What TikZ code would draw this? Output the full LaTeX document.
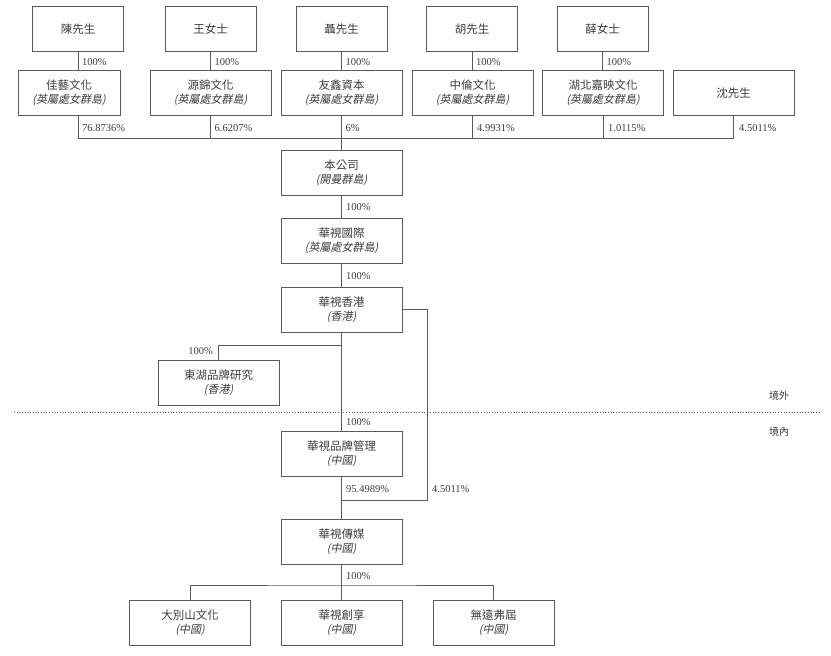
\documentclass[tikz,border=0pt]{standalone}
\usepackage{fontspec}
\setmainfont{Liberation Serif}
\newfontfamily\cjk{Noto Sans CJK TC}
\newfontfamily\cjkslant{Noto Sans CJK TC}[FakeSlant=0.2]
\definecolor{boxline}{HTML}{5A5A5A}
\definecolor{boxtext}{HTML}{3C3C3C}

\tikzset{
    entity/.style={draw=boxline, line width=0.8pt, text=boxtext, minimum width=121pt, minimum height=45pt,
        inner sep=0pt, align=center, font=\cjk\fontsize{11.5}{14}\selectfont},
    person/.style={entity, minimum width=91pt},
    share/.style={text=boxtext, inner sep=0pt, font=\fontsize{10.5}{12}\selectfont},
    zone/.style={text=boxtext, inner sep=0pt, font=\cjk\fontsize{10}{12}\selectfont},
    link/.style={draw=boxline, line width=0.8pt},
}
\newcommand{\juris}[1]{\\{\cjkslant\fontsize{11}{14}\selectfont(#1)}}

\begin{document}
\begin{tikzpicture}[x=1pt, y=-1pt]
    \useasboundingbox (0,0) rectangle (831,656);

    \node[person] (chen) at (78,29) {陳先生};
    \node[person] (wang) at (210.5,29) {王女士};
    \node[person] (nie) at (341.5,29) {聶先生};
    \node[person] (hu) at (472,29) {胡先生};
    \node[person] (xue) at (602.5,29) {薛女士};

    \node[entity, minimum width=102pt] (jiayi) at (69,93) {佳藝文化\juris{英屬處女群島}};
    \node[entity] (yuanjin) at (210.5,93) {源錦文化\juris{英屬處女群島}};
    \node[entity] (youxin) at (341.5,93) {友鑫資本\juris{英屬處女群島}};
    \node[entity] (zhonglun) at (472.5,93) {中倫文化\juris{英屬處女群島}};
    \node[entity] (jiaying) at (603,93) {湖北嘉映文化\juris{英屬處女群島}};
    \node[entity] (shen) at (733.5,93) {沈先生};

    \node[entity] (company) at (341.5,172.5) {本公司\juris{開曼群島}};
    \node[entity] (intl) at (341.5,240.5) {華視國際\juris{英屬處女群島}};
    \node[entity] (hk) at (341.5,309.5) {華視香港\juris{香港}};
    \node[entity] (donghu) at (218.5,383) {東湖品牌研究\juris{香港}};
    \node[entity] (brand) at (341.5,453.5) {華視品牌管理\juris{中國}};
    \node[entity] (media) at (341.5,542) {華視傳媒\juris{中國}};
    \node[entity] (dabie) at (190,623) {大別山文化\juris{中國}};
    \node[entity] (chuangxiang) at (341.5,623) {華視創享\juris{中國}};
    \node[entity] (wuyuan) at (493.5,623) {無遠弗屆\juris{中國}};

    \coordinate (bar) at (0,138);
    \coordinate (split) at (341.5,345);
    \coordinate (loop) at (427,500);
    \coordinate (fork) at (341.5,585);
    \coordinate (border west) at (14,412.5);
    \coordinate (border east) at (820,412.5);

    \draw[link] (chen.south) -- (chen.south |- jiayi.north);
    \draw[link] (wang) -- (yuanjin);
    \draw[link] (nie) -- (youxin);
    \draw[link] (hu.south) -- (hu.south |- zhonglun.north);
    \draw[link] (xue.south) -- (xue.south |- jiaying.north);

    \draw[link] (chen.south |- jiayi.south) -- (chen.south |- bar) -- (shen.south |- bar) -- (shen.south);
    \draw[link] (yuanjin.south) -- (yuanjin.south |- bar);
    \draw[link] (zhonglun.south) -- (zhonglun.south |- bar);
    \draw[link] (jiaying.south) -- (jiaying.south |- bar);
    \draw[link] (youxin.south) -- (company.north);

    \draw[link] (company) -- (intl);
    \draw[link] (intl) -- (hk);
    \draw[link] (hk) -- (brand);
    \draw[link] (brand) -- (media);
    \draw[link] (split) -| (donghu.north);
    \draw[link] (hk.east) -| (loop) -- (loop -| media.north);
    \draw[link] (media) -- (chuangxiang);
    \draw[link] (dabie.north) |- (fork) -| (wuyuan.north);

    \draw[boxline, line width=0.7pt, dotted] (border west) -- (border east);
    \node[zone] (offshore) at (779,396) {境外};
    \node[zone] (onshore) at (779,432) {境內};

    \node[share, anchor=west] at (82,62) {100\%};
    \node[share, anchor=west] at (214.5,62) {100\%};
    \node[share, anchor=west] at (345.5,62) {100\%};
    \node[share, anchor=west] at (476,62) {100\%};
    \node[share, anchor=west] at (606.5,62) {100\%};

    \node[share, anchor=west] at (82,128) {76.8736\%};
    \node[share, anchor=west] at (214.5,128) {6.6207\%};
    \node[share, anchor=west] at (345.5,128) {6\%};
    \node[share, anchor=west] at (477,128) {4.9931\%};
    \node[share, anchor=west] at (608,128) {1.0115\%};
    \node[share, anchor=west] at (739,128) {4.5011\%};

    \node[share, anchor=west] at (346,207) {100\%};
    \node[share, anchor=west] at (346,276) {100\%};
    \node[share, anchor=east] at (213,351) {100\%};
    \node[share, anchor=west] at (346,422) {100\%};
    \node[share, anchor=west] at (346,489) {95.4989\%};
    \node[share, anchor=west] at (432,489) {4.5011\%};
    \node[share, anchor=west] at (346,576) {100\%};

\end{tikzpicture}
\end{document}
